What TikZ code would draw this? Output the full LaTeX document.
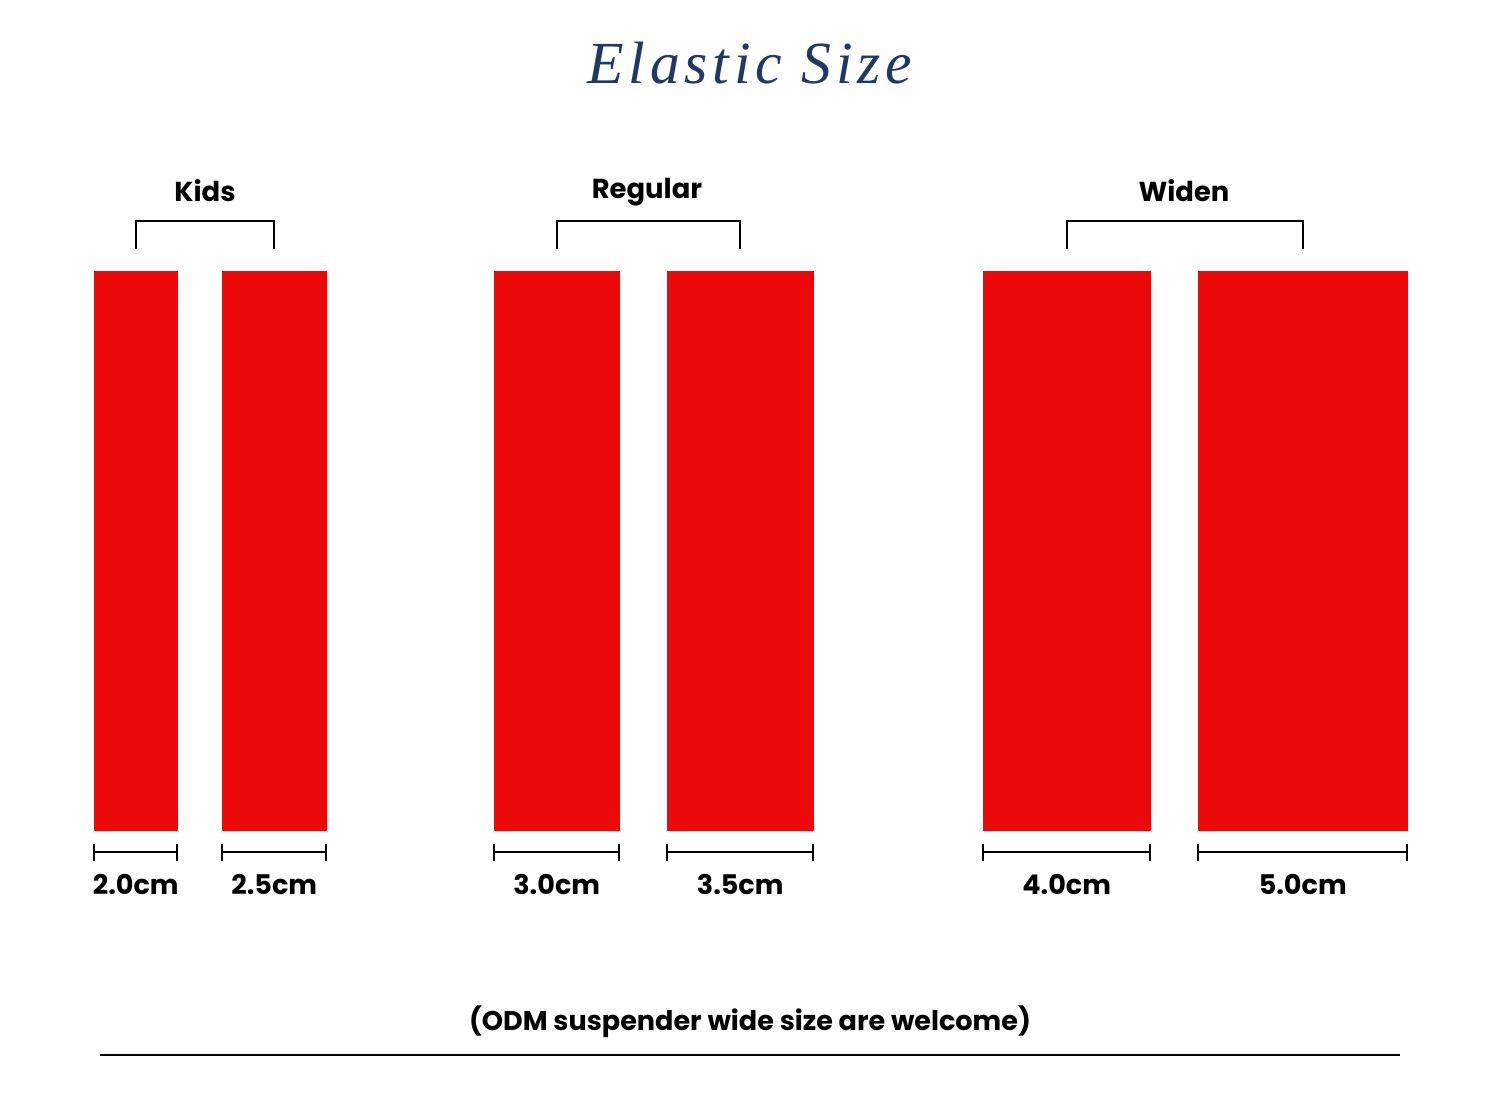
\documentclass[tikz,border=0pt]{standalone}
\usepackage{fontspec}
\setmainfont{Poppins}
\newfontfamily\titlefont[LetterSpace=8]{Liberation Serif}
\usepackage{xcolor}
\usepackage{tikz}
\usetikzlibrary{positioning,arrows.meta}
\definecolor{elasticred}{HTML}{EC0909}
\definecolor{titleblue}{HTML}{1F3864}

\begin{document}
\begin{tikzpicture}[
  every node/.style={font=\fontsize{7.7}{10}\selectfont\bfseries, inner sep=0pt},
  bar/.style={rectangle, fill=elasticred, minimum height=5.6cm, anchor=north west},
  bracket/.style={line width=0.6pt, draw=black},
  dim/.style={line width=0.6pt, {Bar[width=1.7mm]}-{Bar[width=1.7mm]}},
  group/.style={font=\fontsize{7.8}{10}\selectfont\bfseries}
]
\useasboundingbox (0,0) rectangle (15,10.95);
\node[font=\titlefont\itshape\fontsize{17}{20}\selectfont, text=titleblue] (title) at (7.5,10.32) {Elastic Size};
% bars with width marks
\foreach \n/\x/\w/\t in {k1/0.93/0.84/2.0cm, k2/2.21/1.05/2.5cm,
                          r1/4.93/1.26/3.0cm, r2/6.66/1.47/3.5cm,
                          w1/9.82/1.68/4.0cm, w2/11.97/2.10/5.0cm}{
  \node[bar, minimum width=\w cm] (\n) at (\x,8.25) {};
  \draw[dim] ([yshift=-0.21cm]\n.south west) -- ([yshift=-0.21cm]\n.south east);
  \node[below=0.42cm of \n.south] (\n l) {\t};
}
% group brackets
\draw[bracket] ([yshift=0.21cm]k1.north) -- ++(0,0.28) -| ([yshift=0.21cm]k2.north);
\draw[bracket] ([yshift=0.21cm]r1.north) -- ++(0,0.28) -| ([yshift=0.21cm]r2.north);
\draw[bracket] ([yshift=0.21cm]w1.north) -- ++(0,0.28) -| ([yshift=0.21cm]w2.north);
\node[group] (kids)    at (2.05,9.04) {Kids};
\node[group] (regular) at (6.47,9.03) {Regular};
\node[group] (widen)   at (11.84,9.04) {Widen};
% footer note
\node (note) at (7.5,0.73) {(ODM suspender wide size are welcome)};
\coordinate (rl) at (1,0.40);
\coordinate (rr) at (14,0.40);
\draw[line width=0.7pt] (rl) -- (rr);
\end{tikzpicture}
\end{document}
